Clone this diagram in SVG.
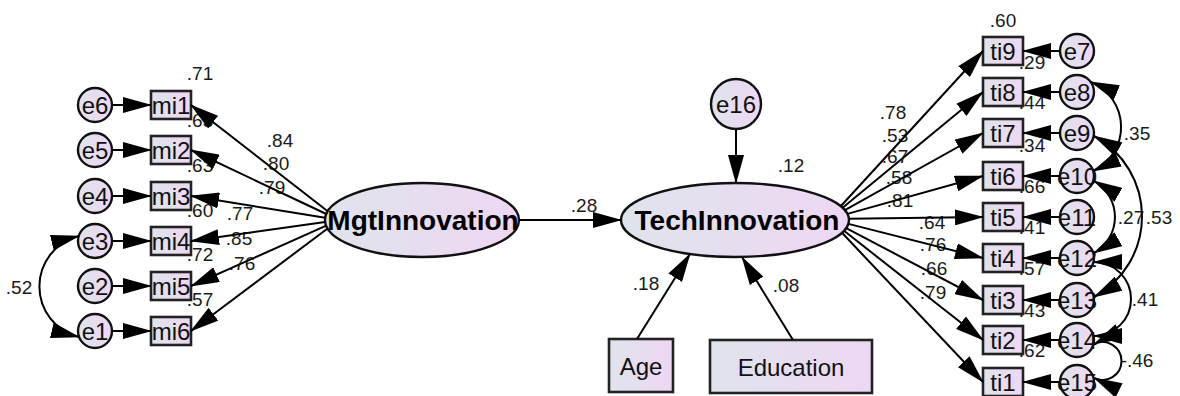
<svg xmlns="http://www.w3.org/2000/svg" width="1180" height="396" viewBox="0 0 1180 396">
  <defs>
    <linearGradient id="fillGrad" x1="0" y1="0" x2="1" y2="0">
      <stop offset="0" stop-color="#dfe4ec"/>
      <stop offset="1" stop-color="#eed7f3"/>
    </linearGradient>
    <marker id="ah" markerUnits="userSpaceOnUse" markerWidth="29" markerHeight="16" viewBox="0 0 29 16" refX="28" refY="8" orient="auto-start-reverse">
      <path d="M0,0 L29,8 L0,16 z" fill="#000"/>
    </marker>
    <style>
      .nd { fill: url(#fillGrad); stroke: #111; stroke-width: 2.4; }
      .bx { fill: url(#fillGrad); stroke: #222; stroke-width: 2.6; }
      .lbl { font-family: "Liberation Sans", Arial, sans-serif; font-size: 24px; fill: #111; text-anchor: middle; }
      .lat { font-family: "Liberation Sans", Arial, sans-serif; font-size: 28px; font-weight: bold; fill: #000; text-anchor: middle; }
      .cf { font-family: "Liberation Sans", Arial, sans-serif; font-size: 19px; fill: #1a1a1a; text-anchor: middle; }
      .cn path { fill: none; stroke: #000; stroke-width: 2; marker-end: url(#ah); }
      .cn path.cov { marker-start: url(#ah); }
    </style>
  </defs>
  <rect width="1180" height="396" fill="#fff"/>

  <!-- Management innovation: error terms and indicators -->
  <g id="n-e6"><circle class="nd" cx="95" cy="105" r="17"/><text class="lbl" x="95" y="113.5">e6</text></g>
  <g id="n-e5"><circle class="nd" cx="95" cy="150" r="17"/><text class="lbl" x="95" y="158.5">e5</text></g>
  <g id="n-e4"><circle class="nd" cx="95" cy="196" r="17"/><text class="lbl" x="95" y="204.5">e4</text></g>
  <g id="n-e3"><circle class="nd" cx="95" cy="241" r="17"/><text class="lbl" x="95" y="249.5">e3</text></g>
  <g id="n-e2"><circle class="nd" cx="95" cy="286" r="17"/><text class="lbl" x="95" y="294.5">e2</text></g>
  <g id="n-e1"><circle class="nd" cx="95" cy="331" r="17"/><text class="lbl" x="95" y="339.5">e1</text></g>

  <g id="n-mi1"><rect class="bx" x="151" y="91" width="40" height="28"/><text class="lbl" x="171" y="113.5">mi1</text></g>
  <g id="n-mi2"><rect class="bx" x="151" y="136" width="40" height="28"/><text class="lbl" x="171" y="158.5">mi2</text></g>
  <g id="n-mi3"><rect class="bx" x="151" y="182" width="40" height="28"/><text class="lbl" x="171" y="204.5">mi3</text></g>
  <g id="n-mi4"><rect class="bx" x="151" y="227" width="40" height="28"/><text class="lbl" x="171" y="249.5">mi4</text></g>
  <g id="n-mi5"><rect class="bx" x="151" y="272" width="40" height="28"/><text class="lbl" x="171" y="294.5">mi5</text></g>
  <g id="n-mi6"><rect class="bx" x="151" y="317" width="40" height="28"/><text class="lbl" x="171" y="339.5">mi6</text></g>

  <!-- Latent constructs -->
  <g id="n-mgt"><ellipse class="nd" cx="422" cy="220" rx="97" ry="37"/><text class="lat" x="423" y="230">MgtInnovation</text></g>
  <g id="n-tech"><ellipse class="nd" cx="735" cy="220" rx="114" ry="37"/><text class="lat" x="737" y="230">TechInnovation</text></g>
  <g id="n-e16"><circle class="nd" cx="736" cy="104" r="25"/><text class="lbl" x="736" y="112.5">e16</text></g>

  <!-- Controls -->
  <g id="n-age"><rect class="bx" x="609" y="339" width="64" height="53"/><text class="lbl" x="641" y="374.5">Age</text></g>
  <g id="n-edu"><rect class="bx" x="710" y="340" width="162" height="53"/><text class="lbl" x="791" y="375.5">Education</text></g>

  <!-- Technical innovation: indicators and error terms -->
  <g id="n-ti9"><rect class="bx" x="983" y="37" width="40" height="28"/><text class="lbl" x="1003" y="59.5">ti9</text></g>
  <g id="n-ti8"><rect class="bx" x="983" y="78" width="40" height="28"/><text class="lbl" x="1003" y="100.5">ti8</text></g>
  <g id="n-ti7"><rect class="bx" x="983" y="119" width="40" height="28"/><text class="lbl" x="1003" y="141.5">ti7</text></g>
  <g id="n-ti6"><rect class="bx" x="983" y="162" width="40" height="28"/><text class="lbl" x="1003" y="184.5">ti6</text></g>
  <g id="n-ti5"><rect class="bx" x="983" y="203" width="40" height="28"/><text class="lbl" x="1003" y="225.5">ti5</text></g>
  <g id="n-ti4"><rect class="bx" x="983" y="244" width="40" height="28"/><text class="lbl" x="1003" y="266.5">ti4</text></g>
  <g id="n-ti3"><rect class="bx" x="983" y="286" width="40" height="28"/><text class="lbl" x="1003" y="308.5">ti3</text></g>
  <g id="n-ti2"><rect class="bx" x="983" y="326" width="40" height="28"/><text class="lbl" x="1003" y="348.5">ti2</text></g>
  <g id="n-ti1"><rect class="bx" x="983" y="368" width="40" height="28"/><text class="lbl" x="1003" y="390.5">ti1</text></g>

  <g id="n-e7"><circle class="nd" cx="1077" cy="51" r="17"/><text class="lbl" x="1077" y="59.5">e7</text></g>
  <g id="n-e8"><circle class="nd" cx="1077" cy="92" r="17"/><text class="lbl" x="1077" y="100.5">e8</text></g>
  <g id="n-e9"><circle class="nd" cx="1077" cy="133" r="17"/><text class="lbl" x="1077" y="141.5">e9</text></g>
  <g id="n-e10"><circle class="nd" cx="1077" cy="176" r="17"/><text class="lbl" x="1077" y="184.5">e10</text></g>
  <g id="n-e11"><circle class="nd" cx="1077" cy="217" r="17"/><text class="lbl" x="1077" y="225.5">e11</text></g>
  <g id="n-e12"><circle class="nd" cx="1077" cy="258" r="17"/><text class="lbl" x="1077" y="266.5">e12</text></g>
  <g id="n-e13"><circle class="nd" cx="1077" cy="300" r="17"/><text class="lbl" x="1077" y="308.5">e13</text></g>
  <g id="n-e14"><circle class="nd" cx="1077" cy="340" r="17"/><text class="lbl" x="1077" y="348.5">e14</text></g>
  <g id="n-e15"><circle class="nd" cx="1077" cy="382" r="17"/><text class="lbl" x="1077" y="390.5">e15</text></g>

  <!-- Estimates: squared multiple correlations, loadings, paths, covariances -->
  <g id="estimates">
    <text class="cf" x="200" y="80">.71</text>
    <text class="cf" x="200" y="127">.63</text>
    <text class="cf" x="200" y="172">.63</text>
    <text class="cf" x="200" y="217">.60</text>
    <text class="cf" x="200" y="261">.72</text>
    <text class="cf" x="200" y="306">.57</text>
    <text class="cf" x="280" y="147">.84</text>
    <text class="cf" x="276" y="170">.80</text>
    <text class="cf" x="272" y="194">.79</text>
    <text class="cf" x="240" y="220">.77</text>
    <text class="cf" x="239" y="245">.85</text>
    <text class="cf" x="242" y="270">.76</text>
    <text class="cf" x="19" y="294">.52</text>

    <text class="cf" x="584" y="212">.28</text>
    <text class="cf" x="791" y="172">.12</text>
    <text class="cf" x="646" y="290">.18</text>
    <text class="cf" x="786" y="291.5">.08</text>

    <text class="cf" x="1003" y="27">.60</text>
    <text class="cf" x="1032" y="69">.29</text>
    <text class="cf" x="1032" y="109">.44</text>
    <text class="cf" x="1032" y="152">.34</text>
    <text class="cf" x="1032" y="193">.66</text>
    <text class="cf" x="1032" y="234">.41</text>
    <text class="cf" x="1032" y="275">.57</text>
    <text class="cf" x="1032" y="317">.43</text>
    <text class="cf" x="1032" y="357">.62</text>

    <text class="cf" x="893" y="119">.78</text>
    <text class="cf" x="895" y="142">.53</text>
    <text class="cf" x="895" y="163">.67</text>
    <text class="cf" x="899" y="184">.58</text>
    <text class="cf" x="900" y="207">.81</text>
    <text class="cf" x="932" y="229">.64</text>
    <text class="cf" x="933" y="251">.76</text>
    <text class="cf" x="934" y="275">.66</text>
    <text class="cf" x="933" y="299">.79</text>

    <text class="cf" x="1137" y="140">.35</text>
    <text class="cf" x="1131" y="224">.27</text>
    <text class="cf" x="1159" y="224">.53</text>
    <text class="cf" x="1145" y="306">.41</text>
    <text class="cf" x="1137" y="367">-.46</text>
  </g>

  <!-- Connectors -->
  <g id="connectors" class="cn">
    <!-- error terms to management indicators -->
    <path d="M112,105 L151,105"/>
    <path d="M112,150 L151,150"/>
    <path d="M112,196 L151,196"/>
    <path d="M112,241 L151,241"/>
    <path d="M112,286 L151,286"/>
    <path d="M112,331 L151,331"/>
    <!-- management loadings -->
    <path d="M327.7,211.3 L191,105"/>
    <path d="M326.3,214 L191,150"/>
    <path d="M325.2,217.8 L191,196"/>
    <path d="M325.1,222 L191,241"/>
    <path d="M326.2,225.7 L191,286"/>
    <path d="M327.6,228.5 L191,331"/>
    <!-- e3 with e1 -->
    <path class="cov" d="M79,236 A52,52 0 0 0 79,337"/>

    <!-- structural paths -->
    <path d="M519,220 L621,220"/>
    <path d="M736,129 L736,183"/>
    <path d="M637,339 L690,254"/>
    <path d="M793,340 L742,257"/>

    <!-- technical loadings -->
    <path d="M840.7,206.2 L983,51"/>
    <path d="M842.6,207.8 L983,92"/>
    <path d="M844.9,210.1 L983,133"/>
    <path d="M847.4,213.9 L983,176"/>
    <path d="M848.9,218.7 L983,217"/>
    <path d="M848.4,223.9 L983,258"/>
    <path d="M846.2,228.1 L983,300"/>
    <path d="M844,230.8 L983,340"/>
    <path d="M842,232.8 L983,382"/>

    <!-- error terms to technical indicators -->
    <path d="M1060,51 L1023,51"/>
    <path d="M1060,92 L1023,92"/>
    <path d="M1060,133 L1023,133"/>
    <path d="M1060,176 L1023,176"/>
    <path d="M1060,217 L1023,217"/>
    <path d="M1060,258 L1023,258"/>
    <path d="M1060,300 L1023,300"/>
    <path d="M1060,340 L1023,340"/>
    <path d="M1060,382 L1023,382"/>

    <!-- error covariances -->
    <path class="cov" d="M1091,82 A48.6,48.6 0 0 1 1093,171"/>
    <path class="cov" d="M1094,136 A91.5,91.5 0 0 1 1094,297"/>
    <path class="cov" d="M1094,181 A41.4,41.4 0 0 1 1094,253"/>
    <path class="cov" d="M1094,262 A37,37 0 0 1 1094,336"/>
    <path class="cov" d="M1094,344 A19,19 0 1 1 1094,378"/>
  </g>
</svg>
